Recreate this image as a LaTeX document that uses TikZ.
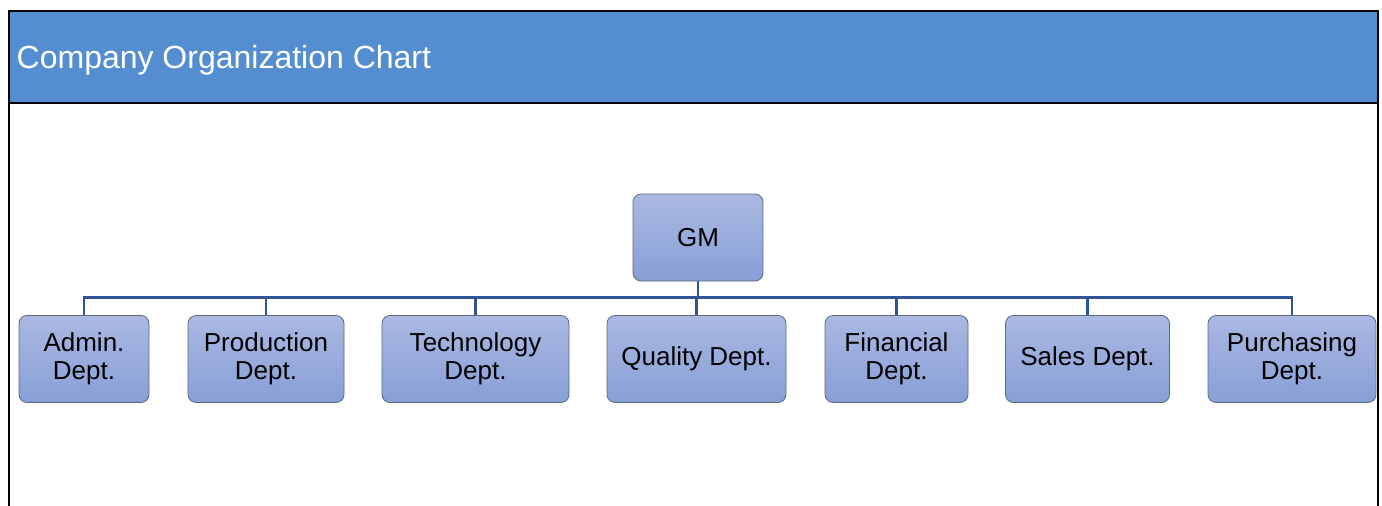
\documentclass[tikz,border=0pt]{standalone}
\usepackage{fontspec}
\setmainfont{Liberation Sans}

\definecolor{hdrblue}{RGB}{85,142,208}
\definecolor{boxtop}{RGB}{170,184,226}
\definecolor{boxbot}{RGB}{135,159,214}
\definecolor{boxline}{RGB}{95,105,125}
\definecolor{wireblue}{RGB}{47,85,151}

\begin{document}
\begin{tikzpicture}[x=1pt,y=-1pt,
  box/.style = {draw=boxline,line width=0.8pt,rounded corners=8pt,
        top color=boxtop,bottom color=boxbot,align=center,
        minimum height=87pt,inner sep=0pt,
        font=\fontsize{26}{27.7}\selectfont},
  wire/.style = {draw=wireblue,line width=2.4pt}]
 \useasboundingbox (0,0) rectangle (1382,506);
 % header band and frame
 \fill[hdrblue] (9,11) rectangle (1378,103);
 \draw[line width=2pt] (9,506) -- (9,11) -- (1378,11) -- (1378,506);
 \draw[line width=2.5pt] (9,103) -- (1378,103);
 \node[anchor=base west,text=white,inner sep=0pt,
   font=\fontsize{32}{38}\selectfont] (title) at (16.5,68) {Company Organization Chart};

 \node[box,minimum width=130pt] (gm)    at (698,237.5)  {GM};
 \node[box,minimum width=130pt] (admin) at (84,359)   {Admin.\\Dept.};
 \node[box,minimum width=156pt] (prod)  at (266,359)  {Production\\Dept.};
 \node[box,minimum width=187pt] (tech)  at (475.5,359) {Technology\\Dept.};
 \node[box,minimum width=179pt] (qual)  at (696.5,359) {Quality Dept.};
 \node[box,minimum width=143pt] (fin)   at (896.5,359) {Financial\\Dept.};
 \node[box,minimum width=164pt] (sales) at (1087.5,359) {Sales Dept.};
 \node[box,minimum width=168pt] (purch) at (1292,359) {Purchasing\\Dept.};
 \begin{scope}[wire]
  \foreach \d in {admin,prod,tech,qual,fin,sales,purch}
   \draw (gm.south) -- ++(0,16) -| (\d.north);
 \end{scope}
\end{tikzpicture}
\end{document}
